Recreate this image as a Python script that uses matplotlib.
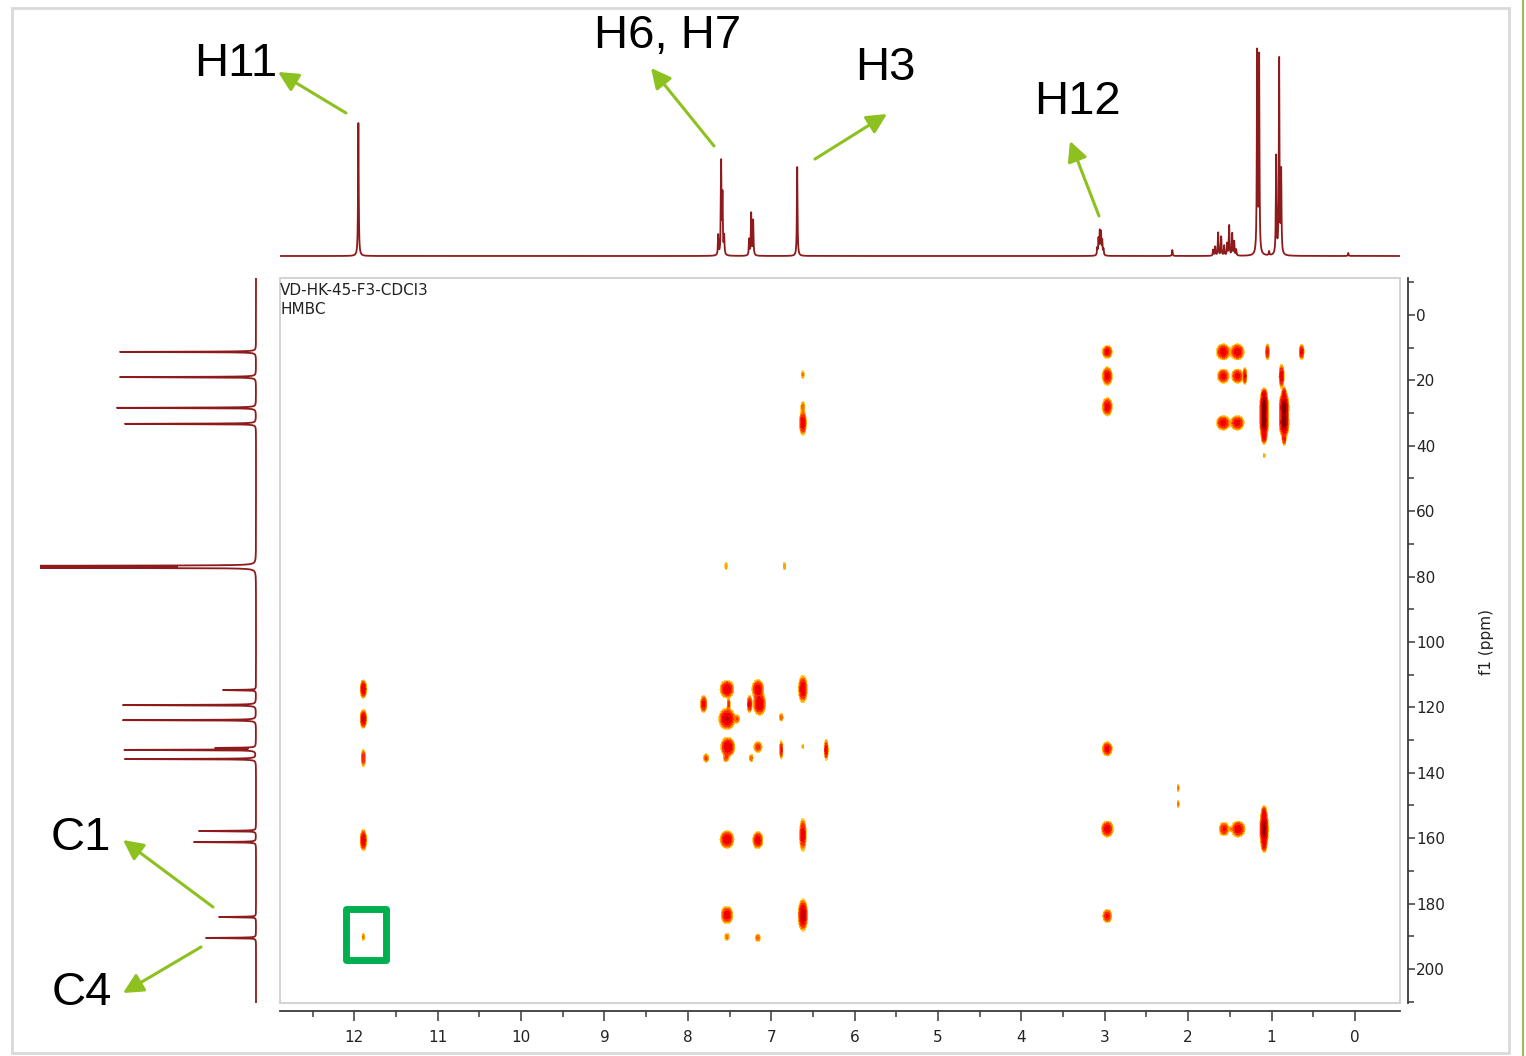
import numpy as np
import matplotlib.pyplot as plt
from matplotlib.patches import Rectangle

# 1H spectrum (top trace): chemical shift (ppm) and line height
h_shift = [11.95, 7.635, 7.600, 7.584, 7.564, 7.264, 7.240, 7.216, 6.688,
           3.09, 3.075, 3.06, 3.045, 3.03, 3.015, 2.19,
           1.700, 1.676, 1.640, 1.604, 1.568, 1.532, 1.508, 1.472, 1.448, 1.424,
           1.173, 1.149, 1.03, 0.945, 0.909, 0.885, 0.08]
h_height = [134, 20, 92, 58, 18, 16, 42, 35, 89,
            7, 16, 23, 22, 14, 6, 6,
            6, 9, 23, 19, 10, 12, 30, 22, 14, 6,
            201, 197, 4, 98, 195, 82, 3]

# 13C spectrum (left trace)
c_shift = [11.3, 19.0, 28.4, 33.3, 76.7, 77.0, 77.3, 114.7, 119.3, 123.9,
           132.4, 133.0, 135.8, 157.8, 161.2, 184.1, 190.5]
c_height = [136, 136, 139, 131, 205, 211, 205, 33, 133, 133,
            39, 131, 131, 57, 62, 37, 50]

# HMBC cross peaks: 1H shift, 13C shift, intensity, width in 1H, width in 13C
cp_h = [11.89, 11.89, 11.89, 11.89, 11.89,
        7.53, 7.53, 7.52, 7.53, 7.53, 7.53, 7.54, 7.54, 7.51, 7.41,
        7.16, 7.14, 7.26, 7.16, 7.16, 7.16, 7.24,
        7.81, 7.78, 6.88, 6.88, 6.84, 6.34,
        6.62, 6.62, 6.62, 6.62, 6.62, 6.62, 6.62,
        2.97, 2.97, 2.97, 2.97, 2.97, 2.97, 2.12, 2.12,
        1.58, 1.41, 1.58, 1.41, 1.32, 1.58, 1.41, 1.57, 1.40, 1.49,
        1.05, 1.09, 1.09, 1.09, 1.09, 1.09, 1.09, 1.09, 1.09,
        0.85, 0.85, 0.85, 0.85, 0.88, 0.64]
cp_c = [114.4, 123.5, 135.5, 160.6, 190.2,
        114.4, 123.5, 132.1, 160.4, 183.5, 190.2, 135.5, 76.8, 119.0, 123.5,
        114.4, 119.0, 119.0, 132.1, 160.6, 190.5, 135.5,
        119.0, 135.5, 123.0, 133.0, 76.8, 133.0,
        18.3, 28.0, 33.0, 114.4, 132.0, 159.0, 183.5,
        11.3, 18.7, 28.1, 132.7, 157.2, 183.8, 144.6, 149.5,
        11.3, 11.3, 18.7, 18.7, 18.7, 33.0, 33.0, 157.2, 157.2, 157.2,
        11.3, 28.0, 33.0, 24.5, 37.5, 43.0, 157.2, 152.0, 162.5,
        28.0, 33.0, 24.0, 38.0, 18.7, 11.3]
cp_amp = [1.0, 1.1, 0.55, 1.0, 0.3,
          0.9, 1.1, 1.0, 0.9, 0.8, 0.25, 0.3, 0.22, 0.4, 0.3,
          0.8, 1.0, 0.7, 0.4, 0.8, 0.3, 0.3,
          0.7, 0.35, 0.3, 0.6, 0.22, 0.7,
          0.25, 0.3, 0.9, 0.9, 0.2, 0.8, 1.3,
          0.7, 0.75, 0.75, 0.7, 0.8, 0.6, 0.25, 0.25,
          0.8, 0.8, 0.7, 0.7, 0.6, 0.75, 0.75, 0.6, 0.8, 0.15,
          0.6, 1.6, 1.6, 0.6, 0.6, 0.2, 1.5, 0.4, 0.4,
          1.6, 1.6, 0.5, 0.5, 0.8, 0.7]
cp_wh = [0.018, 0.018, 0.014, 0.018, 0.008,
         0.04, 0.045, 0.04, 0.04, 0.035, 0.02, 0.02, 0.012, 0.01, 0.02,
         0.035, 0.035, 0.015, 0.03, 0.03, 0.02, 0.015,
         0.02, 0.02, 0.015, 0.01, 0.012, 0.012,
         0.012, 0.015, 0.02, 0.025, 0.01, 0.02, 0.025,
         0.03, 0.03, 0.03, 0.03, 0.035, 0.028, 0.008, 0.008,
         0.04, 0.04, 0.035, 0.035, 0.012, 0.04, 0.04, 0.03, 0.04, 0.01,
         0.012, 0.022, 0.022, 0.015, 0.015, 0.01, 0.022, 0.012, 0.012,
         0.025, 0.025, 0.012, 0.012, 0.015, 0.015]
cp_wc = [1.3, 1.3, 1.4, 1.5, 0.8,
         1.3, 1.5, 1.4, 1.3, 1.3, 0.8, 0.8, 0.9, 1.0, 0.8,
         1.4, 1.6, 1.3, 1.0, 1.3, 0.8, 0.8,
         1.3, 0.8, 0.8, 1.5, 0.9, 1.6,
         0.9, 1.0, 1.8, 2.0, 0.6, 2.5, 2.2,
         1.0, 1.4, 1.4, 1.1, 1.2, 1.1, 0.8, 0.8,
         1.2, 1.2, 1.1, 1.1, 1.4, 1.1, 1.1, 1.1, 1.2, 0.5,
         1.3, 2.2, 2.2, 1.0, 1.0, 0.6, 3.0, 0.8, 0.8,
         2.0, 2.0, 1.0, 1.0, 1.8, 1.2]

h_lim = (12.89, -0.54)
c_lim = (210.4, -11.3)
line_col = '#8e1b1b'


def lorentz(axis, centers, heights, hw):
    y = np.zeros_like(axis)
    for c0, a in zip(centers, heights):
        y += a * hw ** 2 / ((axis - c0) ** 2 + hw ** 2)
    return y


fig = plt.figure(figsize=(15.26, 10.56), dpi=100)
W, H = 1526, 1056

# main HMBC panel
ax = fig.add_axes([280 / W, 1 - 1003 / H, 1120 / W, 725 / H])
hx = np.arange(-0.6, 12.95, 0.008)
cy = np.arange(-12, 211, 0.2)
Z = np.zeros((cy.size, hx.size))
for h0, c0, a, wh, wc in zip(cp_h, cp_c, cp_amp, cp_wh, cp_wc):
    gx = np.exp(-0.5 * ((hx - h0) / wh) ** 2)
    gy = np.exp(-0.5 * ((cy - c0) / wc) ** 2)
    Z += a * np.outer(gy, gx)

levels = [0.1, 0.15, 0.22, 0.32, 0.55, 1.0, 1.3, 20]
cols = ['#ffd24d', '#ffa600', '#ff6a00', '#ff2a00', '#f00000', '#c40000', '#8b0000']
ax.contourf(hx, cy, Z, levels=levels, colors=cols)
ax.set_xlim(*h_lim)
ax.set_ylim(*c_lim)

ax.spines['top'].set_visible(False)
ax.spines['left'].set_visible(False)
for s in ['bottom', 'right']:
    ax.spines[s].set_position(('outward', 5.5))
    ax.spines[s].set_color('#3a3a3a')
    ax.spines[s].set_linewidth(1.3)
ax.yaxis.tick_right()
ax.set_xticks(np.arange(0, 13, 1))
ax.set_xticks(np.arange(0.5, 13, 1), minor=True)
ax.set_yticks(np.arange(0, 201, 20))
ax.set_yticks(np.arange(-10, 211, 20), minor=True)
ax.tick_params(axis='x', which='major', length=7, width=1.1, color='#3a3a3a',
               labelsize=11, pad=7, labelcolor='#222222')
ax.tick_params(axis='x', which='minor', length=4, width=1.1, color='#3a3a3a')
ax.tick_params(axis='y', which='major', length=5, width=1.1, color='#3a3a3a',
               labelsize=11, pad=1, labelcolor='#222222')
ax.tick_params(axis='y', which='minor', length=4, width=1.1, color='#3a3a3a')
ax.add_patch(Rectangle((0, 0), 1, 1, transform=ax.transAxes, fill=False,
                       edgecolor='#d4d4d4', lw=1.5, clip_on=False))
ax.text(0.0, 0.993, 'VD-HK-45-F3-CDCl3\nHMBC', transform=ax.transAxes,
        ha='left', va='top', fontsize=11, color='#222222', linespacing=1.35)
ax.add_patch(Rectangle((11.62, 181.8), 0.48, 15.3, fill=False,
                       edgecolor='#00b050', lw=5, joinstyle='round'))
fig.text(1487 / W, 1 - 642 / H, 'f1 (ppm)', rotation=90, ha='center',
         va='center', fontsize=11, color='#222222')

# top 1H trace
ax_top = fig.add_axes([280 / W, 1 - 258 / H, 1120 / W, 218 / H])
hgrid = np.arange(-0.54, 12.89, 0.0008)
ax_top.plot(hgrid, lorentz(hgrid, h_shift, h_height, 0.0045), color=line_col, lw=1.3)
ax_top.set_xlim(*h_lim)
ax_top.set_ylim(-2, 216)
ax_top.axis('off')

# left 13C trace
ax_left = fig.add_axes([40 / W, 1 - 1003 / H, 218 / W, 725 / H])
cgrid = np.arange(-11.3, 210.4, 0.01)
ax_left.plot(lorentz(cgrid, c_shift, c_height, 0.07), cgrid, color=line_col, lw=1.3)
ax_left.set_xlim(216, -2)
ax_left.set_ylim(*c_lim)
ax_left.axis('off')

# annotation layer in pixel coordinates
ov = fig.add_axes([0, 0, 1, 1], facecolor='none')
ov.set_xlim(0, W)
ov.set_ylim(H, 0)
ov.axis('off')
ov.add_patch(Rectangle((12, 8), 1497, 1045, fill=False, edgecolor='#d9d9d9', lw=2))
ov.plot([1523, 1523], [0, H], color='#9bbb59', lw=1.5)

green = '#8cc11f'
labels = [('H11', 236, 64), ('H6, H7', 668, 36), ('H3', 885, 68),
          ('H12', 1077, 102), ('C1', 81, 838), ('C4', 82, 993)]
for t, x, y in labels:
    ov.text(x, y, t, ha='center', va='center', fontsize=34,
            family='Liberation Sans', color='black')
arrows = [((346, 113), (278, 72)), ((714, 146), (651, 68)),
          ((815, 159), (887, 114)), ((1099, 216), (1070, 141)),
          ((213, 907), (123, 840)), ((201, 947), (123, 993))]
for start, end in arrows:
    ov.annotate('', xy=end, xytext=start,
                arrowprops=dict(arrowstyle='-|>,head_length=0.6,head_width=0.3',
                                mutation_scale=20, color=green, lw=2.2,
                                shrinkA=0, shrinkB=0))

fig.savefig('out.png', dpi=100)
